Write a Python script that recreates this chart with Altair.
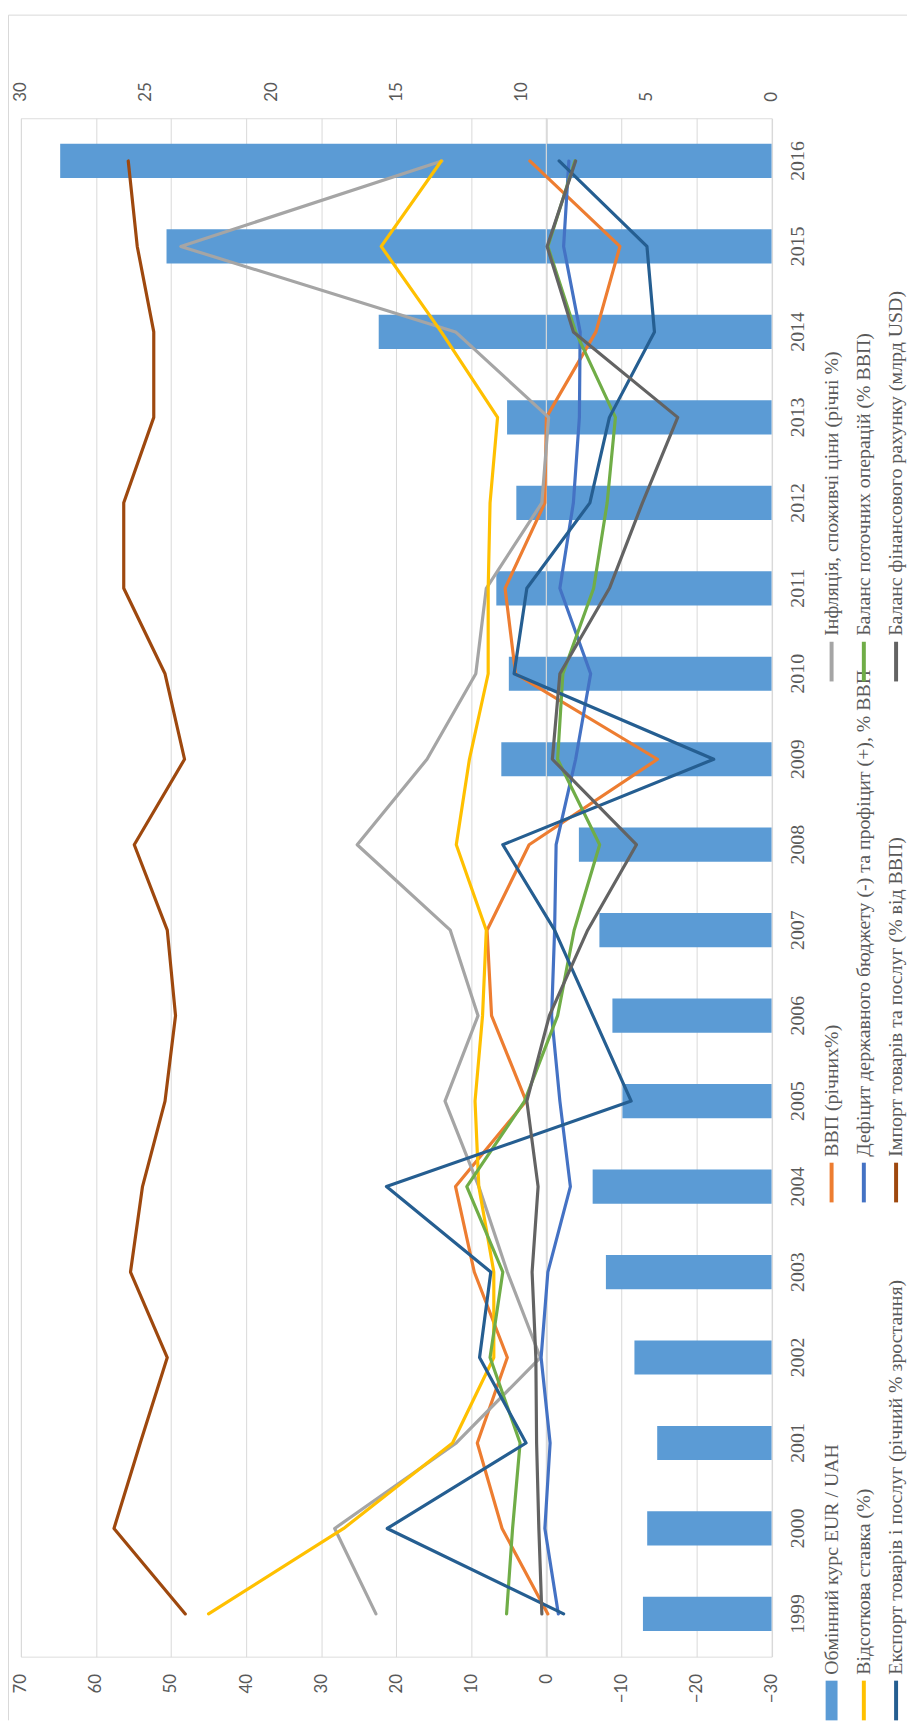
import altair as alt
import pandas as pd

years = list(range(1999, 2017))

eur_uah = [5.14, 4.97, 4.57, 5.48, 6.62, 7.15, 5.96, 6.36, 6.88, 7.7, 10.8, 10.5, 11.0, 10.2, 10.57, 15.7, 24.18, 28.43]
gdp = [-0.2, 5.9, 9.2, 5.2, 9.6, 12.1, 2.7, 7.3, 7.9, 2.3, -14.8, 4.1, 5.5, 0.2, 0.0, -6.6, -9.8, 2.2]
inflation = [22.7, 28.2, 12.0, 0.8, 5.2, 9.0, 13.5, 9.1, 12.8, 25.2, 15.9, 9.4, 8.0, 0.6, -0.3, 12.1, 48.7, 13.9]
rate = [45, 27, 12.5, 7, 7, 9, 9.5, 8.5, 8, 12, 10.25, 7.75, 7.75, 7.5, 6.5, 14, 22, 14]
budget = [-1.6, 0.2, -0.5, 0.7, -0.2, -3.2, -1.8, -0.7, -1.1, -1.3, -3.9, -5.9, -1.8, -3.6, -4.4, -4.5, -2.3, -3.0]
current_acc = [5.3, 4.5, 3.5, 7.5, 5.8, 10.6, 2.9, -1.5, -3.7, -7.1, -1.5, -2.2, -6.3, -8.1, -9.2, -3.9, -0.2, -3.8]
exports = [-2.3, 21.2, 2.7, 8.9, 7.4, 21.3, -11.3, -6.2, -1.1, 5.8, -22.3, 4.3, 2.6, -5.8, -8.4, -14.4, -13.4, -1.7]
imports = [48.1, 57.6, 54.1, 50.5, 55.4, 53.8, 50.8, 49.4, 50.5, 54.9, 48.2, 50.8, 56.3, 56.3, 52.3, 52.3, 54.5, 55.7]
fin_acc = [0.6, 1.0, 1.3, 1.4, 1.9, 1.1, 2.6, -0.4, -5.5, -12.0, -0.8, -1.8, -8.4, -12.8, -17.5, -3.6, -0.1, -3.9]

# legend order (Excel: row-major, 3 columns)
names = [
    "Обмінний курс EUR / UAH",
    "ВВП (річних%)",
    "Інфляція, споживчі ціни (річні %)",
    "Відсоткова ставка (%)",
    "Дефіцит державного бюджету (-) та профіцит (+), % ВВП",
    "Баланс поточних операцій (% ВВП)",
    "Експорт товарів і послуг (річний % зростання)",
    "Імпорт товарів та послуг (% від ВВП)",
    "Баланс фінансового рахунку (млрд USD)",
]
colors = ["#5B9BD5", "#ED7D31", "#A5A5A5", "#FFC000", "#4472C4", "#70AD47",
          "#255E91", "#9E480E", "#636363"]
line_values = [gdp, inflation, rate, budget, current_acc, exports, imports, fin_acc]

W, H = 756.5, 1550.4
OX, OY = 21.0, 112.4  # page position of plot origin
PAD_L, PAD_T = OX - 8, OY - 8
SVG_W, SVG_H = 906, 1719

AX_FONT = "Lato"
SERIF = "Liberation Serif"
TXT = "#595959"

y_enc = alt.Y(
    "year:O",
    sort="descending",
    scale=alt.Scale(paddingInner=0.6, paddingOuter=0.3),
    axis=alt.Axis(
        orient="right", title=None, labelAngle=270, labelAlign="center",
        labelBaseline="top", labelPadding=16.5, labelFont=SERIF,
        labelFontSize=20, labelColor=TXT, ticks=False, domain=False, grid=False,
    ),
)

prim_scale = alt.Scale(domain=[-30, 70], reverse=True, nice=False)
prim_axis = alt.Axis(
    orient="bottom", title=None, values=list(range(-30, 71, 10)),
    labelAngle=270, labelAlign="right", labelBaseline="middle",
    labelPadding=17, labelFont=AX_FONT, labelFontSize=17, labelColor=TXT,
    ticks=False, tickSize=0, domain=False, grid=True, gridColor="#d9d9d9", gridWidth=1,
)
sec_scale = alt.Scale(domain=[0, 30], reverse=True, nice=False)
sec_axis = alt.Axis(
    orient="top", title=None, values=list(range(0, 31, 5)),
    labelAngle=270, labelAlign="left", labelBaseline="middle",
    labelPadding=17, labelFont=AX_FONT, labelFontSize=17, labelColor=TXT,
    ticks=False, tickSize=0, domain=False, grid=False,
)

bar_df = pd.DataFrame({"year": years, "value": eur_uah})
bars = alt.Chart(bar_df).mark_bar(color=colors[0]).encode(
    x=alt.X("value:Q", scale=sec_scale, axis=sec_axis),
    x2=alt.datum(0),
    y=y_enc,
)

one = pd.DataFrame({"a": [0]})

inner = []
# category axis line at 0
inner.append(
    alt.Chart(one).mark_rule(color="#d9d9d9", strokeWidth=1.2).encode(
        x=alt.X(datum=0, type="quantitative", scale=prim_scale, axis=prim_axis),
        y=alt.value(0), y2=alt.value(H),
    )
)
for vals, col in zip(line_values, colors[1:]):
    df = pd.DataFrame({"year": years, "value": vals})
    inner.append(
        alt.Chart(df).mark_line(color=col, strokeWidth=3.2, strokeJoin="round",
                                strokeCap="round").encode(
            x=alt.X("value:Q", scale=prim_scale, axis=prim_axis),
            y=y_enc,
            order=alt.Order("year:Q"),
        )
    )

# chart-area border (top and left)
inner.append(alt.Chart(one).mark_rule(color="#d9d9d9", strokeWidth=1).encode(
    x=alt.value(8.5 - OX), x2=alt.value(SVG_W + 8 - OX), y=alt.value(8.5 - OY)))
inner.append(alt.Chart(one).mark_rule(color="#d9d9d9", strokeWidth=1).encode(
    x=alt.value(8.5 - OX), y=alt.value(8.5 - OY), y2=alt.value(SVG_H + 8 - OY)))

# legend (rotated)
leg_x = [838.0, 870.5, 903.0]
leg_y = [1727.0, 1205.0, 680.0]
SYM = 40
for i, (name, col) in enumerate(zip(names, colors)):
    r, c = divmod(i, 3)
    px = leg_x[r] - OX
    pb = leg_y[c] - OY
    if i == 0:
        inner.append(alt.Chart(one).mark_rect(color=col).encode(
            x=alt.value(px - 6), x2=alt.value(px + 6),
            y=alt.value(pb - SYM), y2=alt.value(pb)))
    else:
        inner.append(alt.Chart(one).mark_rule(color=col, strokeWidth=4).encode(
            x=alt.value(px), y=alt.value(pb - SYM), y2=alt.value(pb)))
    inner.append(alt.Chart(one).mark_text(
        text=name, angle=270, align="left", baseline="middle",
        font=SERIF, fontSize=20, color=TXT).encode(
        x=alt.value(px), y=alt.value(pb - SYM - 6)))

lines_layer = alt.layer(*inner)

chart = alt.layer(bars, lines_layer).resolve_scale(x="independent").properties(
    width=W, height=H,
    padding={"left": PAD_L, "top": PAD_T, "right": SVG_W - PAD_L - W,
             "bottom": SVG_H - PAD_T - H},
    autosize=alt.AutoSizeParams(type="none"),
).configure_view(stroke=None).configure(background="white")

chart.save("out.html", embed_options={"renderer": "svg", "actions": False})
